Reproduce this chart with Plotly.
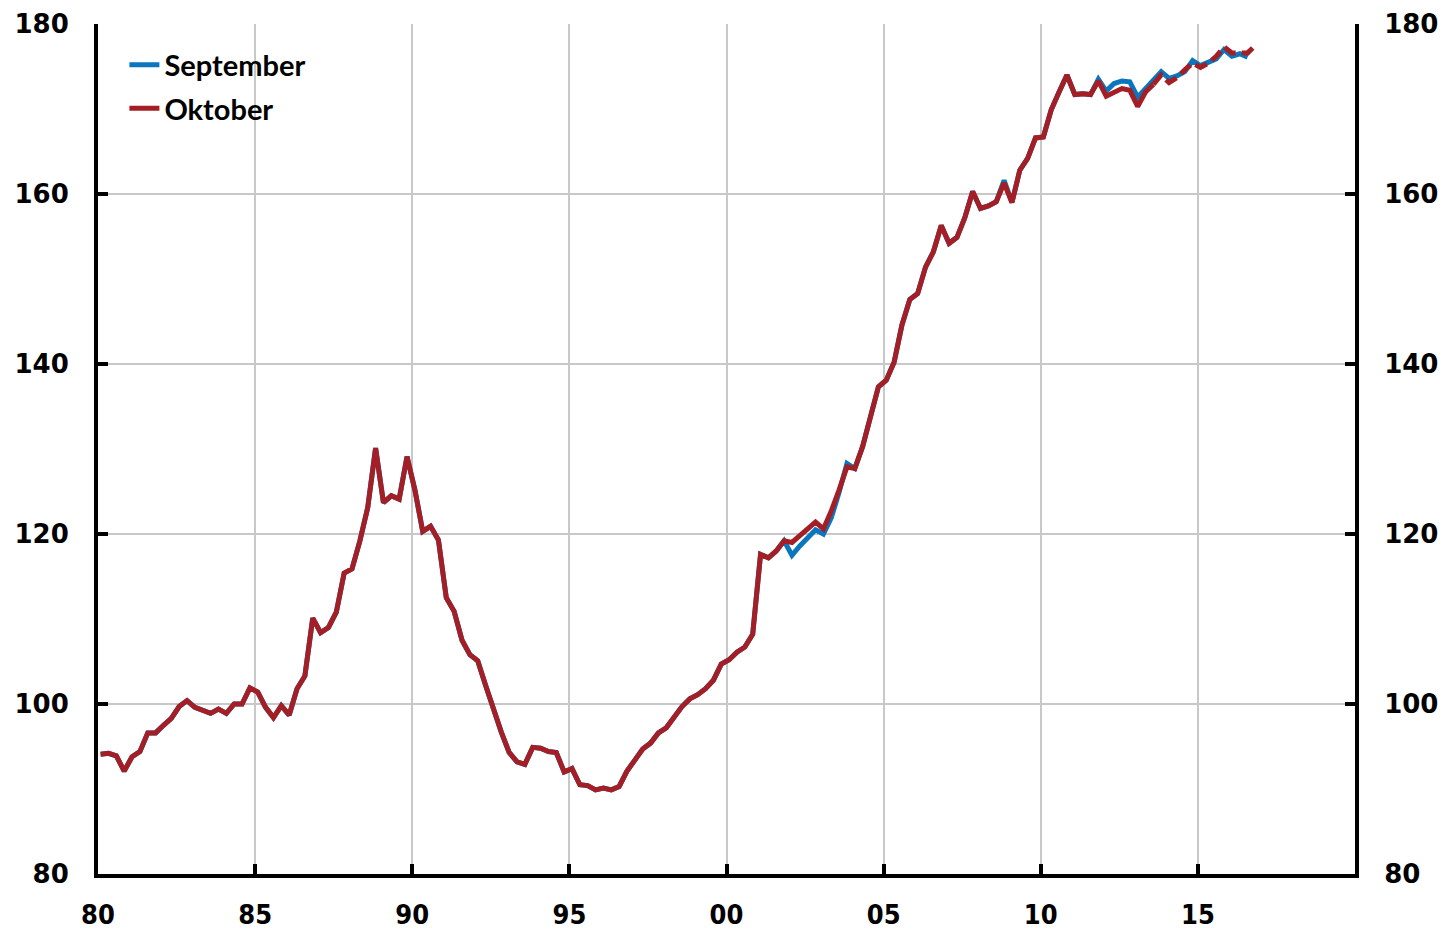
import plotly.graph_objects as go

# Quarterly index values, starting 1980 Q1
start_year = 1980
oktober = [
    94.1, 94.2, 93.9, 92.1, 93.8, 94.4, 96.6, 96.6, 97.5, 98.3,
    99.7, 100.4, 99.6, 99.2, 98.9, 99.4, 98.9, 100.0, 100.0, 101.9,
    101.4, 99.6, 98.4, 99.8, 98.7, 101.8, 103.3, 110.1, 108.4, 109.0,
    110.8, 115.4, 115.9, 119.2, 123.1, 130.1, 123.7, 124.5, 124.1, 129.1,
    125.2, 120.3, 120.9, 119.3, 112.5, 110.9, 107.5, 105.8, 105.1, 102.2,
    99.4, 96.7, 94.3, 93.2, 92.9, 94.9, 94.8, 94.4, 94.3, 92.0,
    92.4, 90.5, 90.4, 89.9, 90.1, 89.9, 90.3, 92.1, 93.4, 94.7,
    95.4, 96.6, 97.2, 98.5, 99.7, 100.6, 101.1, 101.8, 102.8, 104.7,
    105.2, 106.1, 106.7, 108.2, 117.6, 117.2, 118.0, 119.2, 119.0, 119.8,
    120.7, 121.4, 120.6, 122.7, 125.2, 127.9, 127.7, 130.3, 133.8, 137.3,
    138.1, 140.2, 144.6, 147.6, 148.3, 151.4, 153.2, 156.3, 154.2, 154.9,
    157.2, 160.3, 158.3, 158.6, 159.1, 161.3, 159.0, 162.8, 164.2, 166.6,
    166.7, 169.9, 172.0, 174.0, 171.7, 171.8, 171.7, 173.3, 171.5, 172.0,
    172.4, 172.2, 170.3, 172.0, 172.9, 174.0, 173.1, 173.7, 174.6, 175.4,
    174.9, 175.4, 176.2, 177.3, 176.6, 176.6, 176.6, 177.5,
]
september = [
    94.1, 94.2, 93.9, 92.1, 93.8, 94.4, 96.6, 96.6, 97.5, 98.3,
    99.7, 100.4, 99.6, 99.2, 98.9, 99.4, 98.9, 100.0, 100.0, 101.9,
    101.4, 99.6, 98.4, 99.8, 98.7, 101.8, 103.3, 110.1, 108.4, 109.0,
    110.8, 115.4, 115.9, 119.2, 123.1, 130.1, 123.7, 124.5, 124.1, 129.1,
    125.2, 120.3, 120.9, 119.3, 112.5, 110.9, 107.5, 105.8, 105.1, 102.2,
    99.4, 96.7, 94.3, 93.2, 92.9, 94.9, 94.8, 94.4, 94.3, 92.0,
    92.4, 90.5, 90.4, 89.9, 90.1, 89.9, 90.3, 92.1, 93.4, 94.7,
    95.4, 96.6, 97.2, 98.5, 99.7, 100.6, 101.1, 101.8, 102.8, 104.7,
    105.2, 106.1, 106.7, 108.2, 117.6, 117.2, 118.0, 119.2, 117.5, 118.6,
    119.6, 120.5, 120.0, 121.9, 124.9, 128.3, 127.7, 130.3, 133.8, 137.3,
    138.1, 140.2, 144.6, 147.6, 148.3, 151.4, 153.2, 156.3, 154.2, 154.9,
    157.2, 160.3, 158.3, 158.6, 159.1, 161.6, 159.0, 162.8, 164.2, 166.6,
    166.7, 169.9, 172.0, 174.0, 171.7, 171.8, 171.7, 173.5, 172.1, 173.0,
    173.3, 173.2, 171.4, 172.4, 173.3, 174.4, 173.6, 173.9, 174.4, 175.7,
    175.1, 175.5, 175.9, 177.0, 176.2, 176.5, 176.1,
]
dashed_from = 134  # index from which the Oktober line is drawn dashed

x_tickvals = [1980, 1985, 1990, 1995, 2000, 2005, 2010, 2015, 2020]
x_ticktext = ["80", "85", "90", "95", "00", "05", "10", "15", ""]
y_tickvals = [80, 100, 120, 140, 160, 180]


def quarter_pos(i):
    # position of quarter i: first month of the quarter, centred on that month
    return start_year + (3 * i + 1) / 12


x_sep = [quarter_pos(i) for i in range(len(september))]
x_okt = [quarter_pos(i) for i in range(len(oktober))]

BLUE = "#0A76BE"
RED = "#A41E25"
LW = 5

fig = go.Figure()
fig.add_trace(go.Scatter(x=x_sep, y=september, mode="lines", name="September",
                         legendgroup="a",
                         line=dict(color=BLUE, width=LW)))
fig.add_trace(go.Scatter(x=x_okt[:dashed_from + 1], y=oktober[:dashed_from + 1],
                         mode="lines", name="Oktober", legendgroup="b",
                         line=dict(color=RED, width=LW)))
fig.add_trace(go.Scatter(x=x_okt[dashed_from:], y=oktober[dashed_from:],
                         mode="lines", name="Oktober", legendgroup="b", showlegend=False,
                         line=dict(color=RED, width=LW, dash="13px,6px")))
fig.add_trace(go.Scatter(x=[None], y=[None], yaxis="y2", showlegend=False,
                         hoverinfo="skip"))

axis_common = dict(showline=True, linecolor="black", linewidth=4,
                   ticks="inside", ticklen=10, tickwidth=4, tickcolor="black",
                   showgrid=True, gridcolor="#C8C8C8", gridwidth=1.5,
                   zeroline=False, automargin=False)

yfont = dict(family="DejaVu Sans", size=26, color="black", weight="bold")

fig.update_layout(
    width=1452, height=930,
    margin=dict(l=98, r=97, t=24, b=56),
    plot_bgcolor="white", paper_bgcolor="white",
    showlegend=True,
    legend=dict(x=0.021, y=0.982, xanchor="left", yanchor="top",
                font=dict(family="Lato", size=29, color="black", weight="bold"),
                bgcolor="rgba(0,0,0,0)", tracegroupgap=3, traceorder="grouped",
                itemwidth=30),
    xaxis=dict(range=[1980, 2020], tickvals=x_tickvals, ticktext=x_ticktext,
               tickfont=dict(family="DejaVu Sans Condensed", size=27, color="black",
                             weight="bold"),
               ticklabelstandoff=14, **axis_common),
    yaxis=dict(range=[80, 180], tickvals=y_tickvals, tickfont=yfont,
               ticklabelstandoff=20, **axis_common),
    yaxis2=dict(range=[80, 180], tickvals=y_tickvals, overlaying="y", side="right",
                anchor="x", showline=True, linecolor="black", linewidth=4,
                ticks="inside", ticklen=10, tickwidth=4, tickcolor="black",
                showgrid=False, zeroline=False, automargin=False,
                tickfont=yfont, ticklabelstandoff=20),
)

fig.write_html("out.html", config={"displayModeBar": False},
               post_script="document.body.style.margin='0';document.body.style.overflow='hidden';")
